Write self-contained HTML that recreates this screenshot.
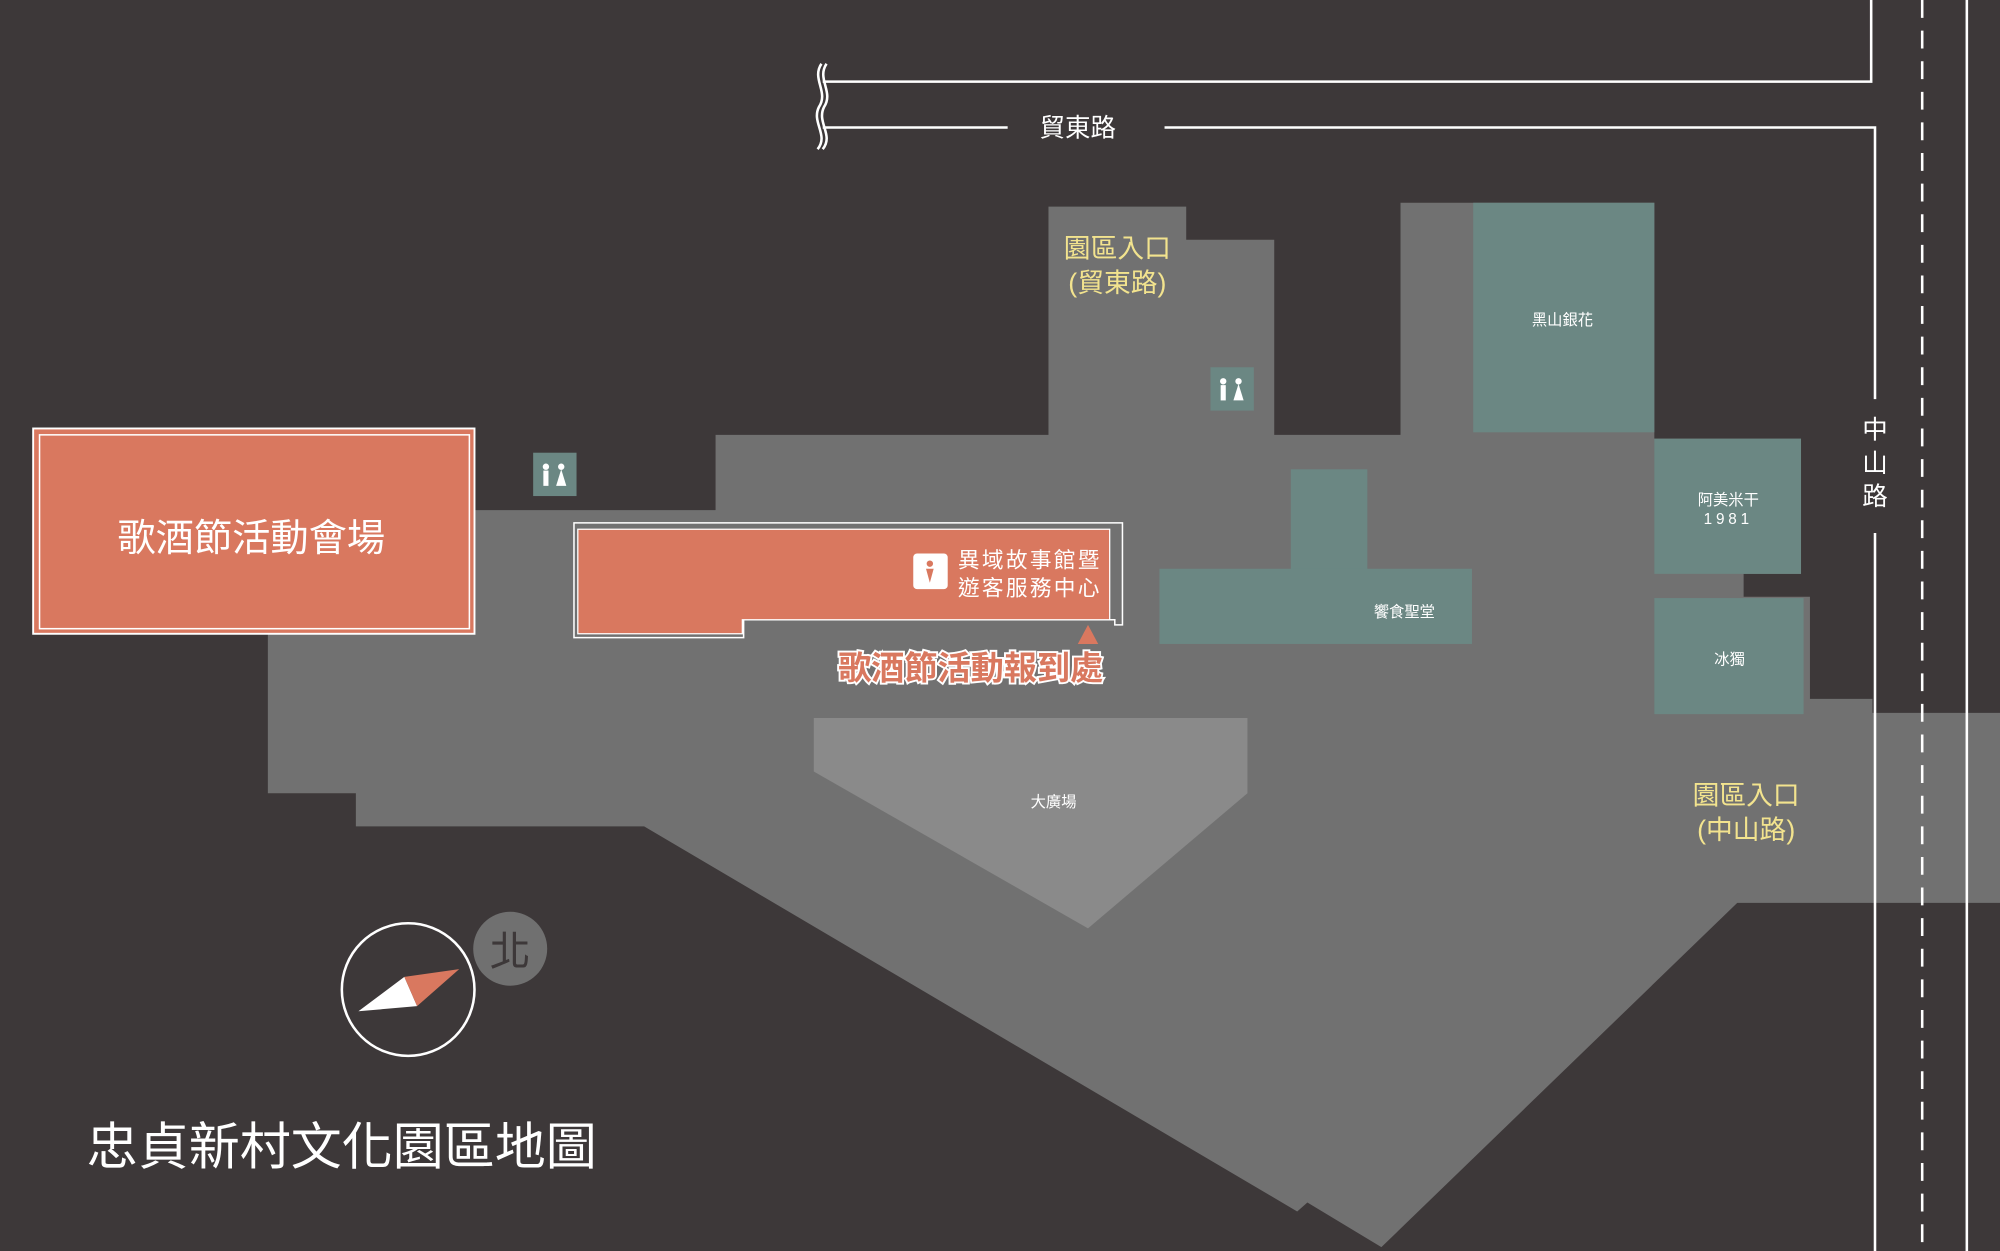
<!DOCTYPE html>
<html><head><meta charset="utf-8"><style>
html,body{margin:0;padding:0;background:#3d3839;}
svg{display:block}
text{font-family:"Liberation Sans","Noto Sans CJK TC",sans-serif;}
</style></head><body>
<svg width="2000" height="1251" viewBox="0 0 1568 981" preserveAspectRatio="none" xmlns="http://www.w3.org/2000/svg">
<rect width="1568" height="981" fill="#3d3839"/>
<polygon fill="#717171" points="372,400 561,400 561,341 822,341 822,162 930,162 930,188 999,188 999,341 1098,341 1098,159 1297,159 1297,344 1412,344 1412,450 1367,450 1367,468 1419,468 1419,548 1468,548 1468,559 1568,559 1568,708 1362,708 1083,978 1025,943 1017,950 505,648 279,648 279,622 210,622 210,497 372,497"/>
<polygon fill="#8a8a8a" points="638,563 978,563 978,622 853,728 638,605"/>
<g fill="#6b8783">
<rect x="1155" y="159" width="142" height="180"/>
<rect x="1297" y="344" width="115" height="106"/>
<rect x="1297" y="469" width="117" height="91"/>
<rect x="1012" y="368" width="60" height="80"/>
<rect x="909" y="446" width="245" height="59"/>
<rect x="418" y="355" width="34" height="34"/>
<rect x="949" y="288" width="34" height="34"/>
</g>
<g fill="#fff">
<circle cx="428" cy="366" r="2.5"/><rect x="426" y="369" width="4" height="12"/>
<circle cx="440" cy="366" r="2.5"/><polygon points="440,368 436,381 444,381"/>
<circle cx="959" cy="299" r="2.5"/><rect x="957" y="302" width="4" height="12"/>
<circle cx="971" cy="299" r="2.5"/><polygon points="971,301 967,314 975,314"/>
</g>
<rect x="26" y="336" width="346" height="161" fill="#d9785f" stroke="#fff" stroke-width="1.5"/>
<rect x="31" y="341" width="337" height="152" fill="none" stroke="#fff" stroke-width="1.2"/>
<text x="197" y="432" font-size="30" fill="#fff" text-anchor="middle">歌酒節活動會場</text>
<polygon points="450,410 880,410 880,490 874,490 874,486 583,486 583,500 450,500" fill="none" stroke="#fff" stroke-width="1.2"/>
<polygon points="453,415 870,415 870,486 582,486 582,497 453,497" fill="#d9785f" stroke="#fff" stroke-width="1"/>
<rect x="716" y="434" width="27" height="28" rx="3" fill="#fff"/>
<circle cx="729" cy="442" r="2.5" fill="#d9785f"/><polygon points="726,446 732,446 729,457" fill="#d9785f"/>
<text x="751" y="445" font-size="17" fill="#fff" letter-spacing="1.8">異域故事館暨</text>
<text x="751" y="467" font-size="17" fill="#fff" letter-spacing="1.8">遊客服務中心</text>
<polygon points="853,490 845,505 861,505" fill="#d9785f"/>
<text x="761" y="533" font-size="26" font-weight="bold" fill="#d9785f" stroke="#fff" stroke-width="3" paint-order="stroke" text-anchor="middle">歌酒節活動報到處</text>
<text x="1225" y="255" font-size="12" fill="#fff" text-anchor="middle">黑山銀花</text>
<text x="1355" y="396" font-size="12" fill="#fff" text-anchor="middle">阿美米干</text>
<text x="1355" y="411" font-size="12" fill="#fff" text-anchor="middle" letter-spacing="3">1981</text>
<text x="1356" y="521" font-size="12" fill="#fff" text-anchor="middle">冰獨</text>
<text x="1101" y="484" font-size="12" fill="#fff" text-anchor="middle">饗食聖堂</text>
<text x="826" y="633" font-size="12" fill="#fff" text-anchor="middle">大廣場</text>
<text x="876" y="202" font-size="21" fill="#f2e38e" text-anchor="middle">園區入口</text>
<text x="876" y="229" font-size="21" fill="#f2e38e" text-anchor="middle">(貿東路)</text>
<text x="1369" y="631" font-size="21" fill="#f2e38e" text-anchor="middle">園區入口</text>
<text x="1369" y="658" font-size="21" fill="#f2e38e" text-anchor="middle">(中山路)</text>
<g stroke="#fff" stroke-width="2" fill="none">
<polyline points="645,64 1467,64 1467,0"/>
<line x1="645" y1="100" x2="790" y2="100"/>
<polyline points="913,100 1470,100 1470,313"/>
<line x1="1470" y1="418" x2="1470" y2="981"/>
<line x1="1542" y1="0" x2="1542" y2="981"/>
<line x1="1507" y1="0" x2="1507" y2="981" stroke-dasharray="14,10"/>
<path d="M644,50 C636,62 650,72 642,84 C636,96 650,106 641,117"/>
<path d="M648,50 C640,62 654,72 646,84 C640,96 654,106 645,117"/>
</g>
<text x="845" y="107" font-size="20" fill="#fff" text-anchor="middle">貿東路</text>
<text x="1470" y="344" font-size="20" fill="#fff" text-anchor="middle">中</text>
<text x="1470" y="370" font-size="20" fill="#fff" text-anchor="middle">山</text>
<text x="1470" y="396" font-size="20" fill="#fff" text-anchor="middle">路</text>
<circle cx="320" cy="776" r="52" fill="none" stroke="#fff" stroke-width="2"/>
<polygon points="281,793 317,766 327,789" fill="#fff"/>
<polygon points="317,766 360,760 327,789" fill="#d9785f"/>
<circle cx="400" cy="744" r="29" fill="#707070"/>
<text x="400" y="757" font-size="32" fill="#3d3839" text-anchor="middle">北</text>
<text x="68" y="913" font-size="40" fill="#fff">忠貞新村文化園區地圖</text>
</svg>
</body></html>
